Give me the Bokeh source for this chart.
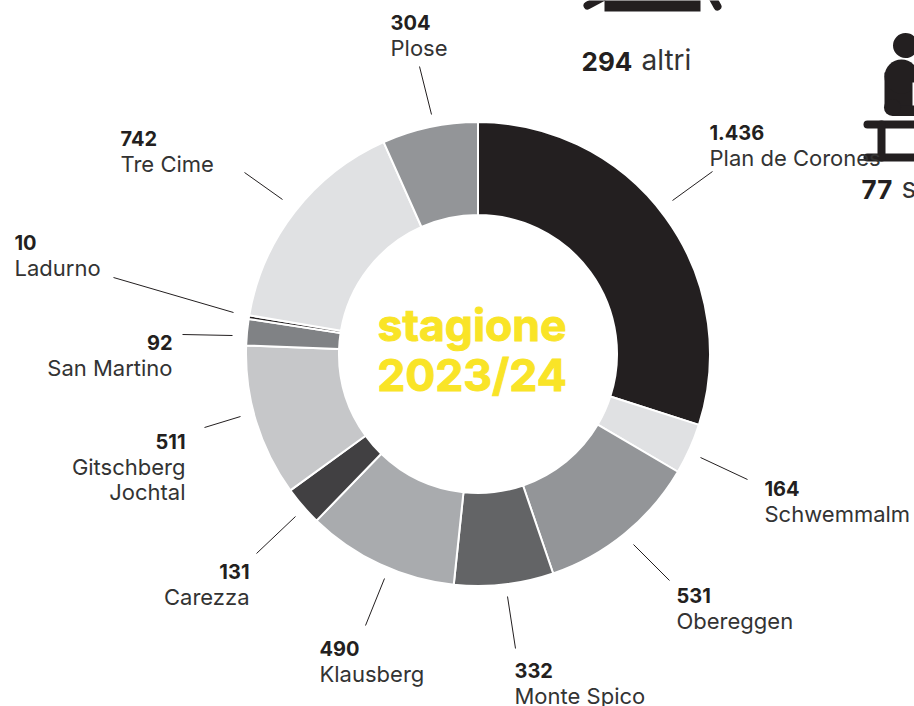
from bokeh.plotting import figure
from bokeh.models import ColumnDataSource, Range1d
from bokeh.core.properties import value
from bokeh.embed import file_html
from bokeh.resources import INLINE
import math

# data
resorts = ["Plan de Corones", "Schwemmalm", "Obereggen", "Monte Spico", "Klausberg", "Carezza",
           "Gitschberg\nJochtal", "San Martino", "Ladurno", "Tre Cime", "Plose"]
value_labels = ["1.436", "164", "531", "332", "490", "131", "511", "92", "10", "742", "304"]
# sweep of each slice, in degrees
slice_sweep = [107.8, 12.7, 40.6, 24.9, 38.1, 9.9, 38.1, 6.6, 0.9, 56.4, 24.0]
center_labels = ["stagione", "2023/24"]
others = ["294", "77"]
others_names = ["altri", "s"]

# styles and layout (page pixels, y down)
colors = ["#231f20", "#e0e1e3", "#939598", "#636466", "#a9abae", "#414042",
          "#c6c7c9", "#808285", "#231f20", "#e0e1e3", "#939598"]
W, H = 914, 706
FONT = "Inter"
INK = "#231f20"
cx, cy, r_out, r_in = 477.5, 353.5, 232, 139
label_x = [709, 764, 676, 514, 319, 249, 185, 172, 14, 120, 390]
label_align = ["left", "left", "left", "left", "left", "right", "right", "right", "left", "left", "left"]
label_base = [140, 496, 603, 678, 656, 579, 449, 350, 250, 146, 30]
name_step = 26
leaders = [(712, 171, 672, 200), (700, 457, 747, 479), (633, 544, 669, 580), (507, 596, 515, 648),
           (384, 578, 365, 625), (295, 516, 256, 553), (240, 416, 204, 427), (182, 334, 232, 335),
           (113, 277, 233, 312), (282, 199, 244, 172), (419, 66, 431, 114)]
BASE_SHIFT = 0.4  # the renderer sets alphabetic text this many em too low

def Y(py):
    return H - py

def TY(py, size):
    return H - py + BASE_SHIFT * size

p = figure(width=W, height=H, x_range=Range1d(0, W), y_range=Range1d(0, H),
           output_backend="svg", toolbar_location=None, min_border=0,
           outline_line_color=None, background_fill_color="white", border_fill_color="white")
p.axis.visible = False
p.grid.visible = False
p.styles = {"position": "absolute", "left": "0px", "top": "0px"}

# icons (decorative, cut off as in the reference)
p.quad(left=[604], right=[700], top=[Y(-10)], bottom=[Y(11)], fill_color=INK, line_color=None)
p.multi_line([[587, 602], [712, 717]], [[Y(5), Y(-3)], [Y(-3), Y(6)]], line_color=INK, line_width=8, line_cap="round")
p.scatter([905], [Y(45)], size=25, fill_color=INK, line_color=None)
p.quad(left=[884], right=[920], top=[Y(72)], bottom=[Y(107)], fill_color=INK, line_color=None)
p.quad(left=[892], right=[920], top=[Y(105)], bottom=[Y(115.5)], fill_color=INK, line_color=None)
p.scatter([892], [Y(107)], size=17, fill_color=INK, line_color=None)
p.scatter([901], [Y(76)], size=34, fill_color=INK, line_color=None)
p.quad(left=[912], right=[920], top=[Y(82)], bottom=[Y(105)], fill_color="white", line_color=None)
p.multi_line([[867, 920], [867, 920], [881, 881]], [[Y(124), Y(124)], [Y(157), Y(157)], [Y(124), Y(157)]],
             line_color=INK, line_width=8, line_cap="round")

# donut, clockwise from the top
starts, ends = [], []
acc = 0.0
for v in slice_sweep:
    a0 = math.radians(90 - acc)
    acc += v
    a1 = math.radians(90 - acc)
    starts.append(a1)
    ends.append(a0)
n = len(slice_sweep)
src = ColumnDataSource(dict(x=[cx] * n, y=[Y(cy)] * n, start=starts, end=ends, color=colors))
p.annular_wedge("x", "y", inner_radius=r_in, outer_radius=r_out, start_angle="start", end_angle="end",
                fill_color="color", line_color="white", line_width=2, source=src,
                inner_radius_units="data", outer_radius_units="data")

# leader lines
p.segment([l[0] for l in leaders], [Y(l[1]) for l in leaders], [l[2] for l in leaders], [Y(l[3]) for l in leaders],
          line_color=INK, line_width=1)

# labels
for x, al, base, val, name in zip(label_x, label_align, label_base, value_labels, resorts):
    p.text([x], [TY(base, 20)], text=[val], text_font=value(FONT), text_font_style="bold", text_font_size="20px",
           text_align=al, text_baseline="alphabetic", text_color=INK)
    for i, part in enumerate(name.split("\n")):
        p.text([x], [TY(base + name_step * (i + 1) - (i > 0), 22)], text=[part], text_font=value(FONT), text_font_size="22px",
               text_align=al, text_baseline="alphabetic", text_color="#333333")

# centre
for base, t in zip([342, 392], center_labels):
    p.text([471.5], [TY(base, 44.5)], text=[t], text_font=value(FONT), text_font_style="bold", text_font_size="44.5px",
           text_align="center", text_baseline="alphabetic", text_color="#f9e427",
           text_outline_color="#f9e427")

# other groups
for x, x2, base, n_, t in zip([581, 861], [641, 901], [71, 199], others, others_names):
    p.text([x], [TY(base, 26)], text=[n_], text_font=value(FONT), text_font_style="bold", text_font_size="26px",
           text_baseline="alphabetic", text_color=INK)
    p.text([x2], [TY(base, 28)], text=[t], text_font=value(FONT), text_font_size="28px",
           text_baseline="alphabetic", text_color="#333333")

open("out.html", "w").write(file_html(p, INLINE))
